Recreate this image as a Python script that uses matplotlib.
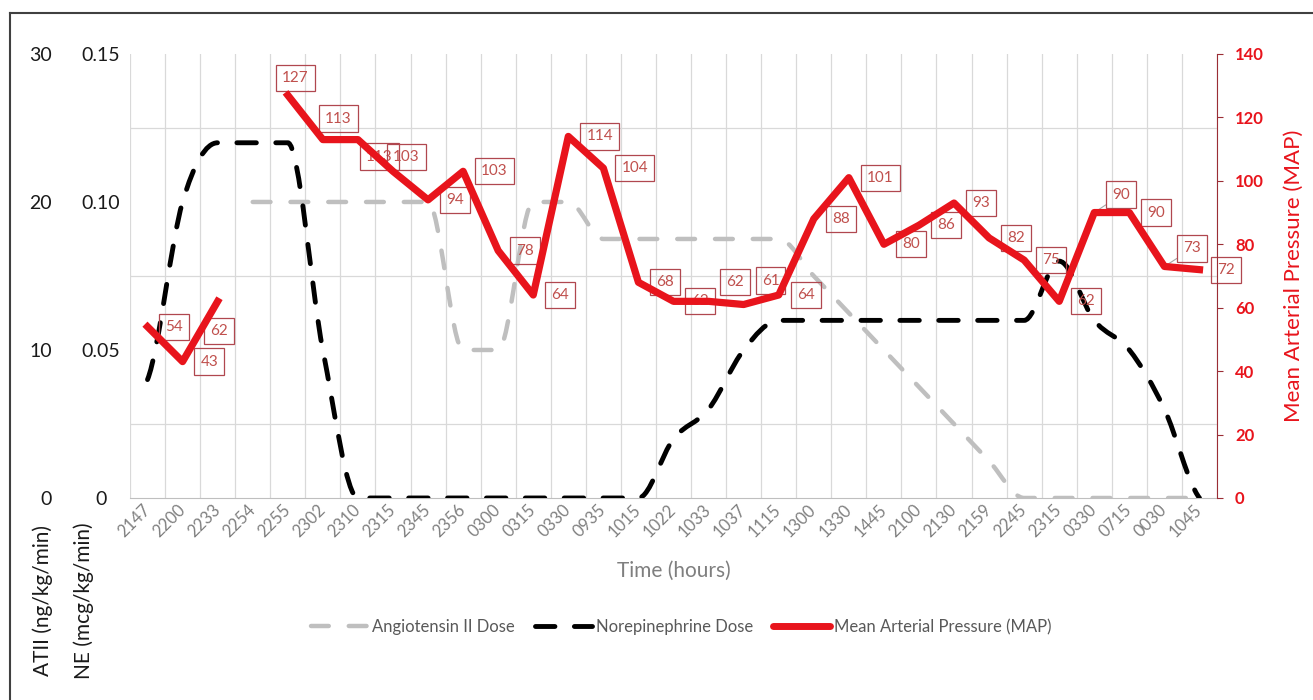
import numpy as np
import matplotlib
matplotlib.use("Agg")
import matplotlib.pyplot as plt
from matplotlib.path import Path
from matplotlib.patches import PathPatch
from matplotlib.lines import Line2D

plt.rcParams["font.family"] = ["Lato", "DejaVu Sans"]

# clock times of each reading
times = ["2147", "2200", "2233", "2254", "2255", "2302", "2310", "2315", "2345", "2356",
         "0300", "0315", "0330", "0935", "1015", "1022", "1033", "1037", "1115", "1300",
         "1330", "1445", "2100", "2130", "2159", "2245", "2315", "0330", "0715", "0030", "1045"]

nan = np.nan
# angiotensin II, ng/kg/min
atii_dose = [nan, nan, nan, 20, 20, 20, 20, 20, 20, 10, 10, 20, 20, 17.5, 17.5, 17.5, 17.5,
             17.5, 17.5, 15, 12.5, 10, 7.5, 5, 2.5, 0, 0, 0, 0, 0, 0]
# norepinephrine, mcg/kg/min
ne_dose = [0.04, 0.10, 0.12, 0.12, 0.12, 0.05, 0, 0, 0, 0, 0, 0, 0, 0, 0, 0.02, 0.03, 0.05,
           0.06, 0.06, 0.06, 0.06, 0.06, 0.06, 0.06, 0.06, 0.08, 0.06, 0.05, 0.03, 0]
# mean arterial pressure, mmHg
map_values = [54, 43, 62, nan, 127, 113, 113, 103, 94, 103, 78, 64, 114, 104, 68, 62, 62, 61,
              64, 88, 101, 80, 86, 93, 82, 75, 62, 90, 90, 73, 72]

RED = "#e8141c"
LABEL_RED = "#c0504d"
GRAY = "#bfbfbf"


def smooth_path(x, y):
    # smoothed line through the points, cubic beziers with flat tangents at
    # peaks/plateaus so the curve doesn't overshoot
    x = np.asarray(x, float)
    y = np.asarray(y, float)
    n = len(x)
    d = np.diff(y) / np.diff(x)
    m = np.zeros(n)
    m[0], m[-1] = d[0] / 2, d[-1] / 2
    for i in range(1, n - 1):
        if d[i - 1] * d[i] > 0:
            m[i] = np.sign(d[i]) * min((abs(d[i - 1]) + abs(d[i])) / 2,
                                       3 * min(abs(d[i - 1]), abs(d[i])))
    verts = [(x[0], y[0])]
    codes = [Path.MOVETO]
    for i in range(n - 1):
        h = (x[i + 1] - x[i]) / 3
        verts += [(x[i] + h, y[i] + m[i] * h), (x[i + 1] - h, y[i + 1] - m[i + 1] * h),
                  (x[i + 1], y[i + 1])]
        codes += [Path.CURVE4] * 3
    return Path(verts, codes)


xs = np.arange(len(times))

fig = plt.figure(figsize=(13.13, 7), dpi=100)
ax = fig.add_axes([0.0990, 0.2886, 0.8279, 0.6343])   # ATII scale + grid
ax_ne = ax.twinx()
ax_map = ax.twinx()

# --- ATII (gray dashed) ---
atii = np.array(atii_dose, float)
ok = ~np.isnan(atii)
ax.add_patch(PathPatch(smooth_path(xs[ok], atii[ok]), fill=False, edgecolor=GRAY, lw=3.2,
                       linestyle=(0, (4, 4.5)), capstyle="round", zorder=3))
ax.set_ylim(0, 30)
ax.set_xlim(-0.5, len(times) - 0.5)

# --- NE (black dashed) ---
ax_ne.add_patch(PathPatch(smooth_path(xs, ne_dose), fill=False, edgecolor="black", lw=3.5,
                          linestyle=(0, (4, 4)), capstyle="round", zorder=3))
ax_ne.set_ylim(0, 0.15)

# --- MAP (red solid) ---
ax_map.plot(xs, map_values, color=RED, lw=5.2, solid_joinstyle="round", zorder=3)
ax_map.set_ylim(0, 140)

# data labels, text left edge offset from point (pixels)
label_shift = {2: (-8, -30), 4: (-6, 17), 5: (2, 21), 6: (8, -17), 7: (0, 14),
               16: (18, 19), 17: (18, 24), 27: (18, 18), 29: (19, 18)}
leaders = {27, 29}
for i, v in enumerate(map_values):
    if np.isnan(v):
        continue
    dx, dy = label_shift.get(i, (18, 0))
    kw = {}
    if i in leaders:
        kw["arrowprops"] = dict(arrowstyle="-", color="#a6a6a6", lw=0.8, shrinkA=0, shrinkB=3)
    ax_map.annotate(str(int(v)), (i, v), xytext=(dx, dy), textcoords="offset pixels",
                    ha="left", va="center", fontsize=11, color=LABEL_RED, zorder=1,
                    bbox=dict(boxstyle="square,pad=0.4", fc="none", ec="#b0474f", lw=0.9), **kw)

# grid
ax.set_xticks(xs)
ax.set_xticks(np.arange(-0.5, len(times), 1), minor=True)
ax.set_yticks([0, 10, 20, 30])
ax.set_yticks(np.arange(0, 31, 5), minor=True)
ax.grid(which="minor", axis="both", color="#d9d9d9", lw=0.9)
ax.set_axisbelow(True)
ax.tick_params(which="both", length=0)
for s in ax.spines.values():
    s.set_visible(False)
ax.spines["bottom"].set_visible(True)
ax.spines["bottom"].set_color("#bfbfbf")

# x labels
ax.set_xticklabels(times, rotation=45, ha="right", va="center", rotation_mode="anchor",
                   fontsize=12, color="#808080")
ax.tick_params(axis="x", pad=7)
ax.set_xlabel("Time (hours)", fontsize=15, color="#7f7f7f")
ax.xaxis.set_label_coords(0.5, -0.142)

# left scales: ATII outer column, NE inner column
ax.set_yticklabels(["0", "10", "20", "30"], fontsize=14, color="#1a1a1a")
ax.tick_params(axis="y", pad=56)
ax_ne.yaxis.set_ticks_position("left")
ax_ne.set_yticks([0, 0.05, 0.10, 0.15])
ax_ne.set_yticklabels(["0", "0.05", "0.10", "0.15"], fontsize=14, color="#1a1a1a", ha="center")
ax_ne.tick_params(axis="y", length=0, pad=21)
for s in ax_ne.spines.values():
    s.set_visible(False)

# right MAP scale
MAP_AXIS = "#9b2d35"
for name, s in ax_map.spines.items():
    s.set_visible(name == "right")
ax_map.spines["right"].set_color(MAP_AXIS)
ax_map.set_yticks(np.arange(0, 141, 20))
ax_map.tick_params(axis="y", direction="out", length=4, color=MAP_AXIS, labelcolor=RED,
                   labelsize=12, pad=9)
for t in ax_map.get_yticklabels():
    t.set_fontweight("bold")
ax_map.set_ylabel("Mean Arterial Pressure (MAP)", fontsize=16, color=RED)
ax_map.yaxis.set_label_coords(1.0615, 0.5)

fig.text(43 / 1313, 1 - 601 / 700, "ATII (ng/kg/min)", rotation=90, ha="center", va="center",
         fontsize=15, color="#1a1a1a")
fig.text(84 / 1313, 1 - 601 / 700, "NE (mcg/kg/min)", rotation=90, ha="center", va="center",
         fontsize=15, color="#1a1a1a")

handles = [
    Line2D([], [], color=GRAY, lw=3.2, linestyle=(0, (4, 4.5)), dash_capstyle="round"),
    Line2D([], [], color="black", lw=3.5, linestyle=(0, (4, 4)), dash_capstyle="round"),
    Line2D([], [], color=RED, lw=5, solid_capstyle="round"),
]
fig.legend(handles, ["Angiotensin II Dose", "Norepinephrine Dose", "Mean Arterial Pressure (MAP)"],
           loc="center", bbox_to_anchor=(0.519, 0.1043), ncol=3, frameon=False, fontsize=12,
           labelcolor="#595959", handlelength=3.4, handletextpad=0.25, columnspacing=1.2)

# page frame
fig.add_artist(Line2D([0.0076, 0.0076], [0, 0.9814], color="#404040", lw=1.5,
                      transform=fig.transFigure))
fig.add_artist(Line2D([0.0076, 1], [0.9814, 0.9814], color="#404040", lw=1.5,
                      transform=fig.transFigure))

fig.savefig("out.png", dpi=100)
